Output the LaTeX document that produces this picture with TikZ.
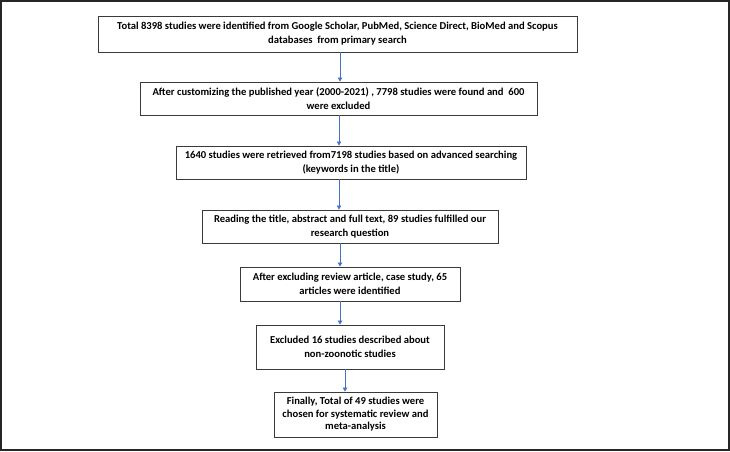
\documentclass[tikz,border=0pt]{standalone}
\usepackage{fontspec}
\setmainfont{Carlito}
\usetikzlibrary{arrows.meta}
\definecolor{arrowblue}{HTML}{4472C4}
\definecolor{boxline}{HTML}{3A3A3A}
\tikzset{
  flowbox/.style={draw=boxline, line width=0.9pt, inner sep=1pt, align=center,
    font=\fontsize{10.6}{14}\selectfont\bfseries, anchor=center},
  flowarrow/.style={draw=arrowblue, line width=0.8pt, -{Triangle[length=4pt,width=4.5pt]}}
}
\begin{document}
\begin{tikzpicture}[x=1pt,y=-1pt]
\useasboundingbox (0,0) rectangle (730,451);
\draw[line width=1.6pt, draw=black!85] (0.8,0.8) rectangle (729.2,450.2);
\node[flowbox, minimum width=479, minimum height=36] (b1) at (337.5,34)
  {Total 8398 studies were identified from Google Scholar, PubMed, Science Direct, BioMed and Scopus\\databases\ \ from primary search};
\node[flowbox, minimum width=397, minimum height=33] (b2) at (338.5,98.5)
  {After customizing the published year (2000-2021) , 7798 studies were found and\ \ 600\\were excluded};
\node[flowbox, minimum width=350, minimum height=33] (b3) at (351,162.5)
  {1640 studies were retrieved from7198 studies based on advanced searching\\(keywords in the title)};
\node[flowbox, minimum width=296, minimum height=33] (b4) at (350,226.5)
  {Reading the title, abstract and full text, 89 studies fulfilled our\\research question};
\node[flowbox, minimum width=220, minimum height=34] (b5) at (350,284)
  {After excluding review article, case study, 65\\articles were identified};
\node[flowbox, minimum width=188, minimum height=44] (b6) at (350,347)
  {Excluded 16 studies described about\\non-zoonotic studies};
\node[flowbox, minimum width=163, minimum height=45, font=\fontsize{10.6}{12.6}\selectfont\bfseries] (b7) at (355.5,414.5)
  {Finally, Total of 49 studies were\\chosen for systematic review and\\meta-analysis};
\coordinate (x1) at (340,0);
\coordinate (x2) at (339,0);
\coordinate (x3) at (345,0);
\draw[flowarrow] (b1.south -| x1) -- (b2.north -| x1);
\draw[flowarrow] (b2.south -| x2) -- (b3.north -| x2);
\draw[flowarrow] (b3.south -| x2) -- (b4.north -| x2);
\draw[flowarrow] (b4.south -| x1) -- (b5.north -| x1);
\draw[flowarrow] (b5.south -| x1) -- (b6.north -| x1);
\draw[flowarrow] (b6.south -| x3) -- (b7.north -| x3);
\end{tikzpicture}
\end{document}
